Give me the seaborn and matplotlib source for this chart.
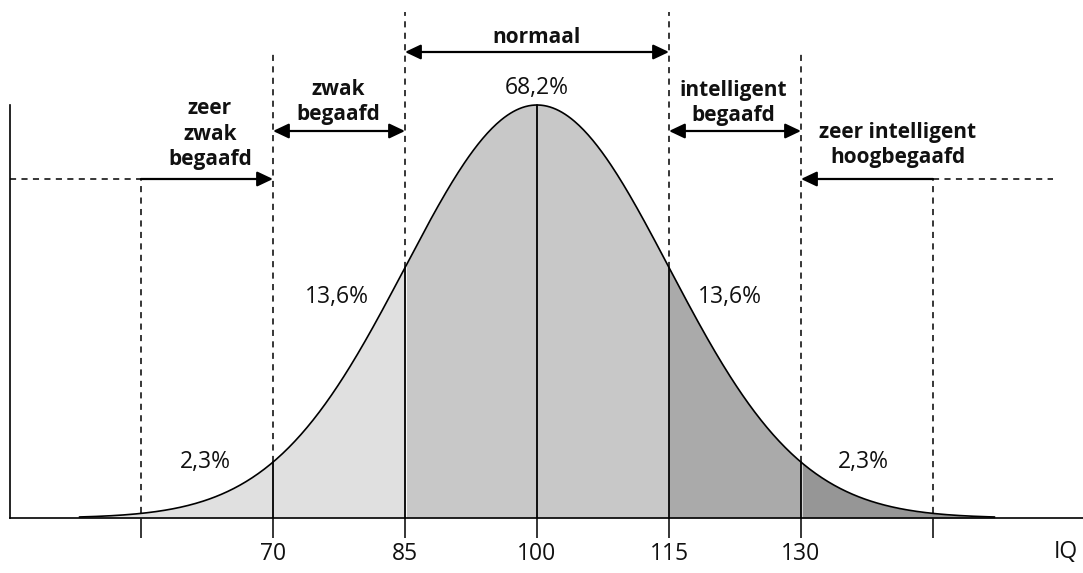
import numpy as np
import pandas as pd
import matplotlib
matplotlib.use("Agg")
import matplotlib.pyplot as plt
import seaborn as sns

# ---- data ----
mean_iq = 100
sd_iq = 15
curve_range = [48, 152]
boundaries = [70, 85, 100, 115, 130]
outer_marks = [55, 145]
tick_values = [55, 70, 85, 100, 115, 130, 145]
tick_labels = ["", "70", "85", "100", "115", "130", ""]
region_edges = [48, 85, 115, 130, 152]
region_colors = ["#e0e0e0", "#c8c8c8", "#aaaaaa", "#969696"]
pct_labels = ["2,3%", "13,6%", "68,2%", "13,6%", "2,3%"]
class_labels = ["zeer\nzwak\nbegaafd", "zwak\nbegaafd", "normaal",
                "intelligent\nbegaafd", "zeer intelligent\nhoogbegaafd"]

sns.set_theme(style="white")
plt.rcParams["font.family"] = ["Open Sans", "DejaVu Sans"]

x = np.linspace(curve_range[0], curve_range[1], 600)
pdf = np.exp(-0.5 * ((x - mean_iq) / sd_iq) ** 2) / (sd_iq * np.sqrt(2 * np.pi))
df = pd.DataFrame({"IQ": x, "density": pdf})
pmax = 1 / (sd_iq * np.sqrt(2 * np.pi))


def dens(v):
    return np.exp(-0.5 * ((v - mean_iq) / sd_iq) ** 2) / (sd_iq * np.sqrt(2 * np.pi))


# pixel helpers for layout (figure is 1083x573 px)
PX = sd_iq / 132.0          # IQ per pixel horizontally
PY = pmax / 413.0           # density per pixel vertically
def X(p):
    return mean_iq + (p - 537) * PX
def Y(p):
    return (518 - p) * PY

fig = plt.figure(figsize=(10.83, 5.73), dpi=100)
ax = fig.add_axes([0, 0, 1, 1])
ax.set_xlim(X(0), X(1083))
ax.set_ylim(Y(573), Y(0))
ax.patch.set_alpha(0)

# shaded regions
for (a, b), c in zip(zip(region_edges[:-1], region_edges[1:]), region_colors):
    m = (df["IQ"] >= a) & (df["IQ"] <= b)
    ax.fill_between(df["IQ"][m], 0, df["density"][m], color=c, lw=0, zorder=1)

sns.lineplot(data=df, x="IQ", y="density", ax=ax, color="black", lw=1.2, zorder=3)

# solid verticals below curve
for b in boundaries:
    ax.plot([b, b], [0, dens(b)], color="black", lw=1.3, zorder=3)

# dashed verticals above curve
dash = dict(color="black", lw=1.1, ls=(0, (4, 3.5)), zorder=2)
for b in boundaries:
    if b == 100:
        continue
    top = Y(12) if b in (85, 115) else Y(53)
    ax.plot([b, b], [dens(b), top], **dash)
for m in outer_marks:
    ax.plot([m, m], [dens(m), Y(179)], **dash)

# horizontal dashed extensions
ax.plot([X(10), outer_marks[0]], [Y(179), Y(179)], **dash)
ax.plot([outer_marks[1], X(1053)], [Y(179), Y(179)], **dash)

# arrows
astyle_both = "<|-|>,head_length=0.95,head_width=0.45"
astyle_one = "-|>,head_length=0.95,head_width=0.45"
def arrow(x0, x1, y, style):
    ax.annotate("", xy=(x1, y), xytext=(x0, y),
                arrowprops=dict(arrowstyle=style, color="black", lw=1.6,
                                shrinkA=0, shrinkB=0, mutation_scale=10), zorder=4)

arrow(85, 115, Y(52), astyle_both)
arrow(70, 85, Y(131), astyle_both)
arrow(115, 130, Y(131), astyle_both)
arrow(outer_marks[0], 70, Y(179), astyle_one)
arrow(outer_marks[1], 130, Y(179), astyle_one)

# class labels
bold = dict(fontsize=15, fontweight="bold", ha="center", va="center",
            color="#111111", linespacing=1.3)
ax.text(X(210), Y(134), class_labels[0], **bold)
ax.text(X(338), Y(102), class_labels[1], **bold)
ax.text(X(537), Y(37), class_labels[2], **bold)
ax.text(X(733), Y(103), class_labels[3], **bold)
ax.text(X(898), Y(145), class_labels[4], **bold)

# percentage labels
reg = dict(fontsize=16.5, ha="center", va="center", color="#111111")
pct_pos = [(205, 462), (337, 297), (537, 88), (730, 297), (863, 462)]
for lab, (px_, py_) in zip(pct_labels, pct_pos):
    ax.text(X(px_), Y(py_), lab, **reg)

# axes: spines and ticks
for s in ["top", "right"]:
    ax.spines[s].set_visible(False)
ax.spines["left"].set_position(("data", X(10)))
ax.spines["left"].set_bounds(0, pmax)
ax.spines["bottom"].set_position(("data", 0))
ax.spines["bottom"].set_bounds(X(10), X(1083))
for s in ["left", "bottom"]:
    ax.spines[s].set_color("black")
    ax.spines[s].set_linewidth(1.2)
    ax.spines[s].set_zorder(5)

ax.set_xticks(tick_values)
ax.set_xticklabels(tick_labels)
ax.set_yticks([])
ax.tick_params(axis="x", direction="out", length=14.4, width=1.1, color="black",
               pad=3, labelsize=16.5, labelcolor="#111111", bottom=True)
ax.set_xlabel("")
ax.set_ylabel("")
ax.text(X(1066), Y(552), "IQ", fontsize=16.5, ha="center", va="center", color="#111111")

fig.savefig("out.png", dpi=100)
